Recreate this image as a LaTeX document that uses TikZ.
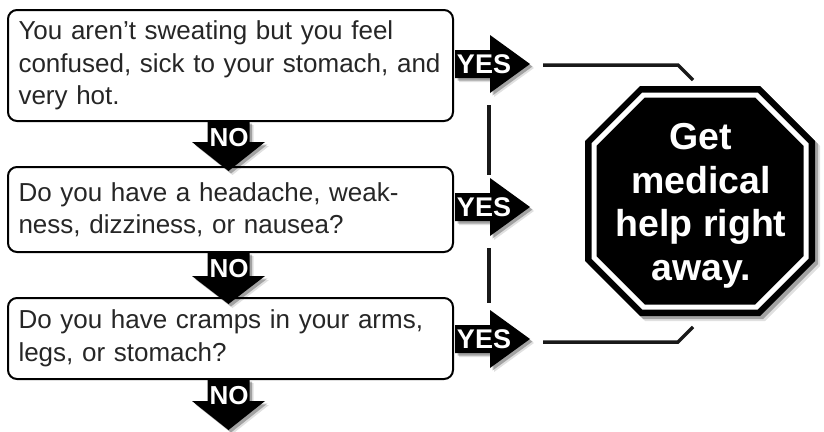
\documentclass[tikz,border=0pt]{standalone}
\usepackage{fontspec}
\setmainfont{Liberation Sans}
\begin{document}
\begin{tikzpicture}[x=1pt,y=-1pt,
  qbox/.style={draw=black, line width=2pt, rounded corners=9pt, inner xsep=10.5pt, inner ysep=0pt,
    text width=424pt, align=left, text=black!85, font=\fontsize{26}{32.5}\selectfont},
  arrlabel/.style={text=white, inner sep=0pt, font=\fontsize{27}{27}\selectfont\bfseries},
  arrbody/.style={fill=black},
  shadowA/.style={fill=black, opacity=0.28},
  shadowB/.style={fill=black, opacity=0.12},
  link/.style={draw=black!90, line width=3.5pt},
  stoptext/.style={text=white, align=center, inner sep=0pt, font=\fontsize{37.5}{43.5}\selectfont\bfseries}
]
\useasboundingbox (0,0) rectangle (824,431);

% question boxes
\node[qbox, minimum height=111pt] (b1) at (230.5,65.5) {You aren’t sweating but you feel\\confused, sick to your stomach, and\\very hot.};
\node[qbox, minimum height=85pt] (b2) at (230.5,209.5) {Do you have a headache, weak-\\ness, dizziness, or nausea?};
\node[qbox, minimum height=81pt] (b3) at (230.5,338.5) {Do you have cramps in your arms,\\legs, or stomach?};

% YES arrows (right)
\foreach \c/\n in {64/1,207/2,339/3}{
  \foreach \s/\st in {4/shadowB,2.5/shadowA}{
    \fill[\st, shift={(\s,\s)}] (455,\c-14) -- (490,\c-14) -- (490,\c-29) -- (530,\c) -- (490,\c+29) -- (490,\c+14) -- (455,\c+14) -- cycle;
  }
  \fill[arrbody] (455,\c-14) -- (490,\c-14) -- (490,\c-29) -- (530,\c) -- (490,\c+29) -- (490,\c+14) -- (455,\c+14) -- cycle;
  \node[arrlabel] (yes\n) at (484,\c+0.5) {YES};
}

% NO arrows (down)
\foreach \t/\h/\e/\n in {121/142/171/1,252/276/304/2,379/401/430/3}{
  \foreach \s/\st in {4/shadowB,2.5/shadowA}{
    \fill[\st, shift={(\s,\s)}] (207.5,\t) -- (249.5,\t) -- (249.5,\h) -- (265,\h) -- (228.5,\e) -- (192,\h) -- (207.5,\h) -- cycle;
  }
  \fill[arrbody] (207.5,\t) -- (249.5,\t) -- (249.5,\h) -- (265,\h) -- (228.5,\e) -- (192,\h) -- (207.5,\h) -- cycle;
  \node[arrlabel, font=\fontsize{26}{26}\selectfont\bfseries] (no\n) at (229,\t+17) {NO};
}

% stop sign
\def\cx{700}\def\cy{201}
\foreach \s/\st in {5/shadowB,3/shadowA}{
  \fill[\st, shift={(\s,\s)}] (\cx-60,\cy-115) -- (\cx+60,\cy-115) -- (\cx+115,\cy-60) -- (\cx+115,\cy+60) -- (\cx+60,\cy+115) -- (\cx-60,\cy+115) -- (\cx-115,\cy+60) -- (\cx-115,\cy-60) -- cycle;
}
\fill[black] (\cx-60,\cy-115) -- (\cx+60,\cy-115) -- (\cx+115,\cy-60) -- (\cx+115,\cy+60) -- (\cx+60,\cy+115) -- (\cx-60,\cy+115) -- (\cx-115,\cy+60) -- (\cx-115,\cy-60) -- cycle;
\draw[white, line width=5pt, line join=miter] (\cx-56.5,\cy-106) -- (\cx+56.5,\cy-106) -- (\cx+106,\cy-56.5) -- (\cx+106,\cy+56.5) -- (\cx+56.5,\cy+106) -- (\cx-56.5,\cy+106) -- (\cx-106,\cy+56.5) -- (\cx-106,\cy-56.5) -- cycle;
\node[stoptext] (stop) at (\cx+1,\cy+5) {Get\\medical\\help right\\away.};

% connectors
\coordinate (t0) at (543,65);
\coordinate (t1) at (678,65);
\coordinate (t2) at (693,80);
\coordinate (u0) at (543,342);
\coordinate (u1) at (678,342);
\coordinate (u2) at (693,327);
\coordinate (v0) at (489,105);
\coordinate (v1) at (489,175);
\coordinate (v2) at (489,248);
\coordinate (v3) at (489,303);
\draw[link] (t0) -- (t1) -- (t2);
\draw[link] (u0) -- (u1) -- (u2);
\draw[link] (v0) -- (v1);
\draw[link] (v2) -- (v3);
\end{tikzpicture}
\end{document}
